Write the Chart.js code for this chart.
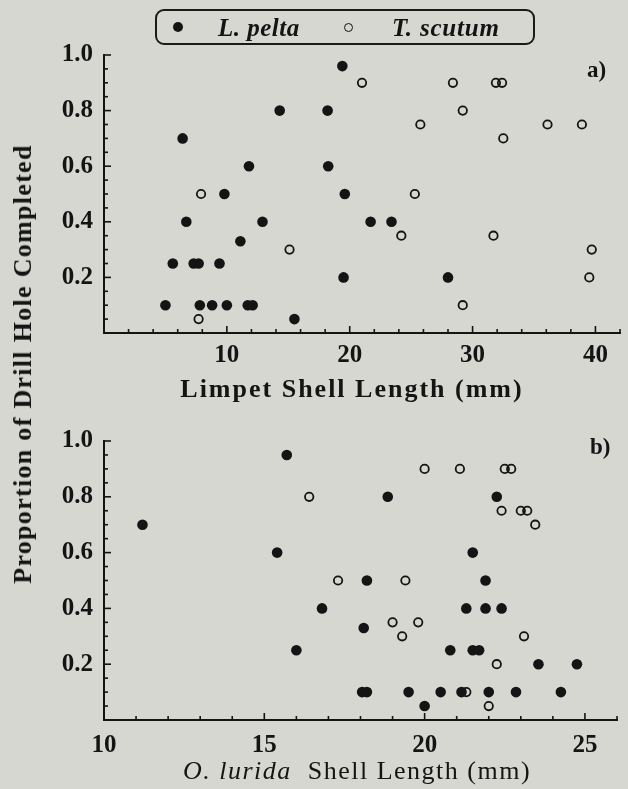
<!DOCTYPE html>
<html>
<head>
<meta charset="utf-8">
<script src="https://cdn.jsdelivr.net/npm/chart.js@4.4.0/dist/chart.umd.min.js"></script>
<style>
  html, body { margin: 0; padding: 0; background: #d5d7d0; }
  #wrap { position: relative; width: 628px; height: 789px; overflow: hidden;
          font-family: 'Liberation Serif', 'Times New Roman', serif; color: #141414; }
  canvas { position: absolute; left: 0; }
  #chart-a { top: 0; }
  #chart-b { top: 410px; }
  .txt { position: absolute; white-space: nowrap; line-height: 1; }
  .legend { position: absolute; left: 155px; top: 9px; width: 376px; height: 32px;
            border: 2px solid #1a1a1a; border-radius: 9px; }
  .dot { position: absolute; border-radius: 50%; box-sizing: border-box; }
</style>
</head>
<body>
<div id="wrap">
  <canvas id="chart-a" width="628" height="410"></canvas>
  <canvas id="chart-b" width="628" height="379"></canvas>

  <div class="legend">
    <span class="dot" style="left:16px; top:11px; width:10px; height:10px; background:#141414;"></span>
    <span class="txt" style="left:61px; top:4px; font-size:25px; font-weight:bold; font-style:italic; letter-spacing:0.5px;">L. pelta</span>
    <span class="dot" style="left:187px; top:12px; width:9px; height:9px; border:1.6px solid #141414;"></span>
    <span class="txt" style="left:235px; top:4px; font-size:25px; font-weight:bold; font-style:italic; letter-spacing:0.8px;">T. scutum</span>
  </div>

  <div class="txt" style="left:23px; top:364px; font-size:26px; font-weight:bold; letter-spacing:1.3px; transform: translate(-50%, -50%) rotate(-90deg);">Proportion of Drill Hole Completed</div>
  <div class="txt" style="left:352px; top:389px; font-size:26px; font-weight:bold; letter-spacing:2px; transform: translate(-50%, -50%);">Limpet Shell Length (mm)</div>
  <div class="txt" style="left:357px; top:771px; font-size:26px; letter-spacing:1.5px; transform: translate(-50%, -50%);"><i>O. lurida</i>&nbsp; Shell Length (mm)</div>
  <div class="txt" style="left:587px; top:58px; font-size:23px; font-weight:bold;">a)</div>
  <div class="txt" style="left:590px; top:435px; font-size:23px; font-weight:bold;">b)</div>
</div>

<script>
// Panel a: limpet shell length (mm) vs proportion of drill hole completed
const peltaLimpetX = [6.4, 11.8, 9.8, 6.7, 12.9, 11.1, 5.6, 7.3, 7.7, 9.4, 5.0, 7.8, 8.8, 10.0, 11.7, 12.1,
                      19.4, 14.3, 18.2, 18.25, 19.6, 21.7, 23.4, 19.5, 28.0, 15.5];
const peltaLimpetY = [0.70, 0.60, 0.50, 0.40, 0.40, 0.33, 0.25, 0.25, 0.25, 0.25, 0.10, 0.10, 0.10, 0.10, 0.10, 0.10,
                      0.96, 0.80, 0.80, 0.60, 0.50, 0.40, 0.40, 0.20, 0.20, 0.05];
const scutumLimpetX = [7.9, 7.7, 21.0, 25.75, 25.3, 24.2, 15.1, 28.4, 31.9, 32.4, 29.2, 36.1, 38.9, 32.5, 31.7, 39.7, 39.5, 29.2];
const scutumLimpetY = [0.50, 0.05, 0.90, 0.75, 0.50, 0.35, 0.30, 0.90, 0.90, 0.90, 0.80, 0.75, 0.75, 0.70, 0.35, 0.30, 0.20, 0.10];

// Panel b: O. lurida shell length (mm) vs proportion of drill hole completed
const peltaOysterX = [11.2, 15.7, 18.85, 15.4, 18.2, 16.8, 18.1, 16.0, 18.05, 18.2, 19.5, 20.5, 20.0,
                      22.25, 21.5, 21.9, 21.3, 21.9, 22.4, 20.8, 21.5, 21.7, 23.55, 24.75, 21.15, 22.0, 22.85, 24.25];
const peltaOysterY = [0.70, 0.95, 0.80, 0.60, 0.50, 0.40, 0.33, 0.25, 0.10, 0.10, 0.10, 0.10, 0.05,
                      0.80, 0.60, 0.50, 0.40, 0.40, 0.40, 0.25, 0.25, 0.25, 0.20, 0.20, 0.10, 0.10, 0.10, 0.10];
const scutumOysterX = [20.0, 16.4, 17.3, 19.4, 19.0, 19.8, 19.3, 21.1, 22.5, 22.7, 22.4, 23.0, 23.2, 23.45, 23.1, 22.25, 21.3, 22.0];
const scutumOysterY = [0.90, 0.80, 0.50, 0.50, 0.35, 0.35, 0.30, 0.90, 0.90, 0.90, 0.75, 0.75, 0.75, 0.70, 0.30, 0.20, 0.10, 0.05];

// Axis ticks
const yMajor = [0.2, 0.4, 0.6, 0.8, 1.0];
const yLabels = ['0.2', '0.4', '0.6', '0.8', '1.0'];
const xMajorA = [10, 20, 30, 40];
const xLabelsA = ['10', '20', '30', '40'];
const xMajorB = [10, 15, 20, 25];
const xLabelsB = ['10', '15', '20', '25'];

const ink = '#141414';
const tickFont = { family: "'Liberation Serif', 'Times New Roman', serif", size: 25, weight: 'bold' };

function toPoints(xs, ys) {
    return xs.map((x, i) => ({ x: x, y: ys[i] }));
}

function labelFor(value, majors, labels) {
    const i = majors.findIndex(m => Math.abs(m - value) < 1e-6);
    return i >= 0 ? labels[i] : '';
}

// Tick marks point into the plot, longer at labelled ticks
const innerTicks = {
    id: 'innerTicks',
    afterDraw(chart) {
        const ctx = chart.ctx;
        const area = chart.chartArea;
        ctx.save();
        ctx.strokeStyle = ink;
        ctx.lineWidth = 1.6;
        ['x', 'y'].forEach(id => {
            const scale = chart.scales[id];
            scale.ticks.forEach(t => {
                const major = scale.options.ticks.callback(t.value) !== '';
                const len = major ? 7 : 4;
                const p = scale.getPixelForValue(t.value);
                ctx.beginPath();
                if (id === 'x') {
                    ctx.moveTo(p, area.bottom);
                    ctx.lineTo(p, area.bottom - len);
                } else {
                    ctx.moveTo(area.left, p);
                    ctx.lineTo(area.left + len, p);
                }
                ctx.stroke();
            });
        });
        ctx.restore();
    }
};

function makeChart(canvasId, pelta, scutum, xOpts, pad, xHeight, xPad) {
    return new Chart(document.getElementById(canvasId), {
        type: 'scatter',
        data: {
            datasets: [
                {
                    label: 'L. pelta',
                    data: pelta,
                    pointStyle: 'circle',
                    pointRadius: 5.3,
                    pointHoverRadius: 5.3,
                    backgroundColor: ink,
                    borderColor: ink,
                    borderWidth: 0
                },
                {
                    label: 'T. scutum',
                    data: scutum,
                    pointStyle: 'circle',
                    pointRadius: 4.2,
                    pointHoverRadius: 4.2,
                    backgroundColor: 'rgba(0,0,0,0)',
                    borderColor: ink,
                    borderWidth: 1.8
                }
            ]
        },
        options: {
            responsive: false,
            animation: false,
            clip: false,
            layout: { padding: pad },
            plugins: { legend: { display: false }, tooltip: { enabled: false } },
            scales: {
                x: {
                    type: 'linear',
                    min: xOpts.min,
                    max: xOpts.max,
                    afterFit: s => { s.height = xHeight; },
                    grid: { display: false, drawTicks: false },
                    border: { display: true, color: ink, width: 2 },
                    ticks: {
                        stepSize: xOpts.step,
                        autoSkip: false,
                        maxRotation: 0,
                        padding: xPad,
                        color: ink,
                        font: tickFont,
                        callback: v => labelFor(v, xOpts.majors, xOpts.labels)
                    }
                },
                y: {
                    type: 'linear',
                    min: 0,
                    max: 1,
                    afterFit: s => { s.width = 104; },
                    grid: { display: false, drawTicks: false },
                    border: { display: true, color: ink, width: 2 },
                    ticks: {
                        stepSize: 0.05,
                        autoSkip: false,
                        padding: 11,
                        color: ink,
                        font: tickFont,
                        callback: v => labelFor(v, yMajor, yLabels)
                    }
                }
            }
        },
        plugins: [innerTicks]
    });
}

// Panel a
makeChart('chart-a',
    toPoints(peltaLimpetX, peltaLimpetY),
    toPoints(scutumLimpetX, scutumLimpetY),
    { min: 0, max: 42, step: 2, majors: xMajorA, labels: xLabelsA },
    { left: 0, right: 8, top: 55, bottom: 0 }, 77, 8);

// Panel b
makeChart('chart-b',
    toPoints(peltaOysterX, peltaOysterY),
    toPoints(scutumOysterX, scutumOysterY),
    { min: 10, max: 26, step: 1, majors: xMajorB, labels: xLabelsB },
    { left: 0, right: 8, top: 31, bottom: 0 }, 69, 11);
</script>
</body>
</html>
